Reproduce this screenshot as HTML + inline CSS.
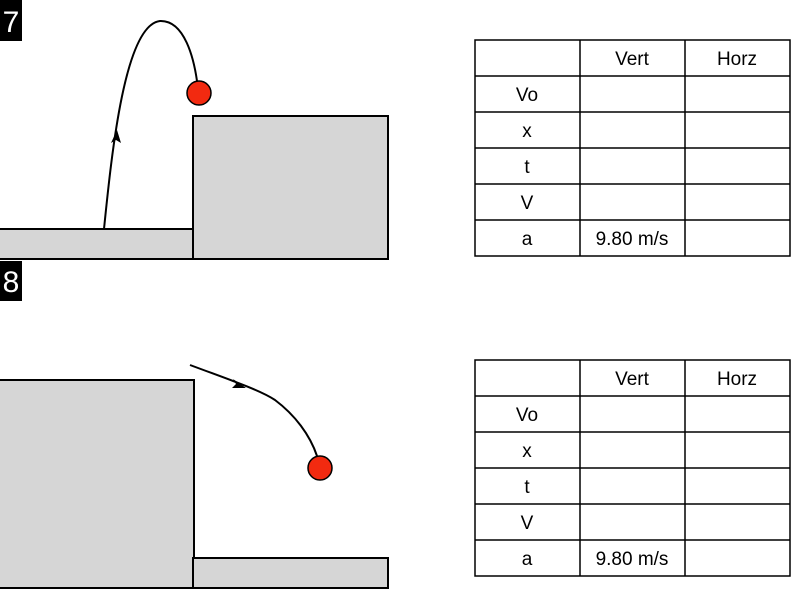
<!DOCTYPE html>
<html><head><style>
body{margin:0;width:800px;height:600px;background:#fff;overflow:hidden;font-family:"Liberation Sans",sans-serif}
svg{position:absolute;left:0;top:0}
</style></head><body>
<svg width="800" height="600" xmlns="http://www.w3.org/2000/svg" font-family="Liberation Sans, sans-serif">
<rect x="0" y="0" width="22" height="41" fill="#000"/>
<text x="11" y="32" fill="#fff" font-size="30" text-anchor="middle">7</text>
<rect x="0" y="261" width="22" height="40" fill="#000"/>
<text x="11" y="292" fill="#fff" font-size="30" text-anchor="middle">8</text>

<rect x="-2" y="229" width="195" height="30" fill="#d6d6d6" stroke="#000" stroke-width="2"/>
<rect x="193" y="116" width="195" height="143" fill="#d6d6d6" stroke="#000" stroke-width="2"/>
<path d="M104,229 C112,150 125,25 160,21 C185,20 194,60 197,81" fill="none" stroke="#000" stroke-width="2"/>
<polygon points="117,130 111,143 116,140 121,143" fill="#000"/>
<circle cx="199" cy="93" r="12" fill="#f22a10" stroke="#000" stroke-width="1.5"/>

<rect x="-2" y="380" width="196" height="208" fill="#d6d6d6" stroke="#000" stroke-width="2"/>
<rect x="193" y="558" width="195" height="30" fill="#d6d6d6" stroke="#000" stroke-width="2"/>
<path d="M190,365 C230,380 260,390 275,400 C295,415 310,435 317,456" fill="none" stroke="#000" stroke-width="2"/>
<polygon points="246,388 233,379 236,384 232,388" fill="#000"/>
<circle cx="320" cy="468" r="12" fill="#f22a10" stroke="#000" stroke-width="1.5"/>

<g stroke="#000" stroke-width="1.5" fill="none">
<rect x="475" y="40" width="315" height="216"/>
<line x1="580" y1="40" x2="580" y2="256"/><line x1="685" y1="40" x2="685" y2="256"/>
<line x1="475" y1="76" x2="790" y2="76"/><line x1="475" y1="112" x2="790" y2="112"/>
<line x1="475" y1="148" x2="790" y2="148"/><line x1="475" y1="184" x2="790" y2="184"/>
<line x1="475" y1="220" x2="790" y2="220"/>
<rect x="475" y="360" width="315" height="216"/>
<line x1="580" y1="360" x2="580" y2="576"/><line x1="685" y1="360" x2="685" y2="576"/>
<line x1="475" y1="396" x2="790" y2="396"/><line x1="475" y1="432" x2="790" y2="432"/>
<line x1="475" y1="468" x2="790" y2="468"/><line x1="475" y1="504" x2="790" y2="504"/>
<line x1="475" y1="540" x2="790" y2="540"/>
</g>
<g font-size="19" fill="#000" text-anchor="middle">
<text x="632" y="65">Vert</text><text x="737" y="65">Horz</text>
<text x="527" y="101">Vo</text><text x="527" y="137">x</text><text x="527" y="173">t</text>
<text x="527" y="209">V</text><text x="527" y="245">a</text><text x="632" y="245">9.80 m/s</text>
<text x="632" y="385">Vert</text><text x="737" y="385">Horz</text>
<text x="527" y="421">Vo</text><text x="527" y="457">x</text><text x="527" y="493">t</text>
<text x="527" y="529">V</text><text x="527" y="565">a</text><text x="632" y="565">9.80 m/s</text>
</g>
</svg>
</body></html>
